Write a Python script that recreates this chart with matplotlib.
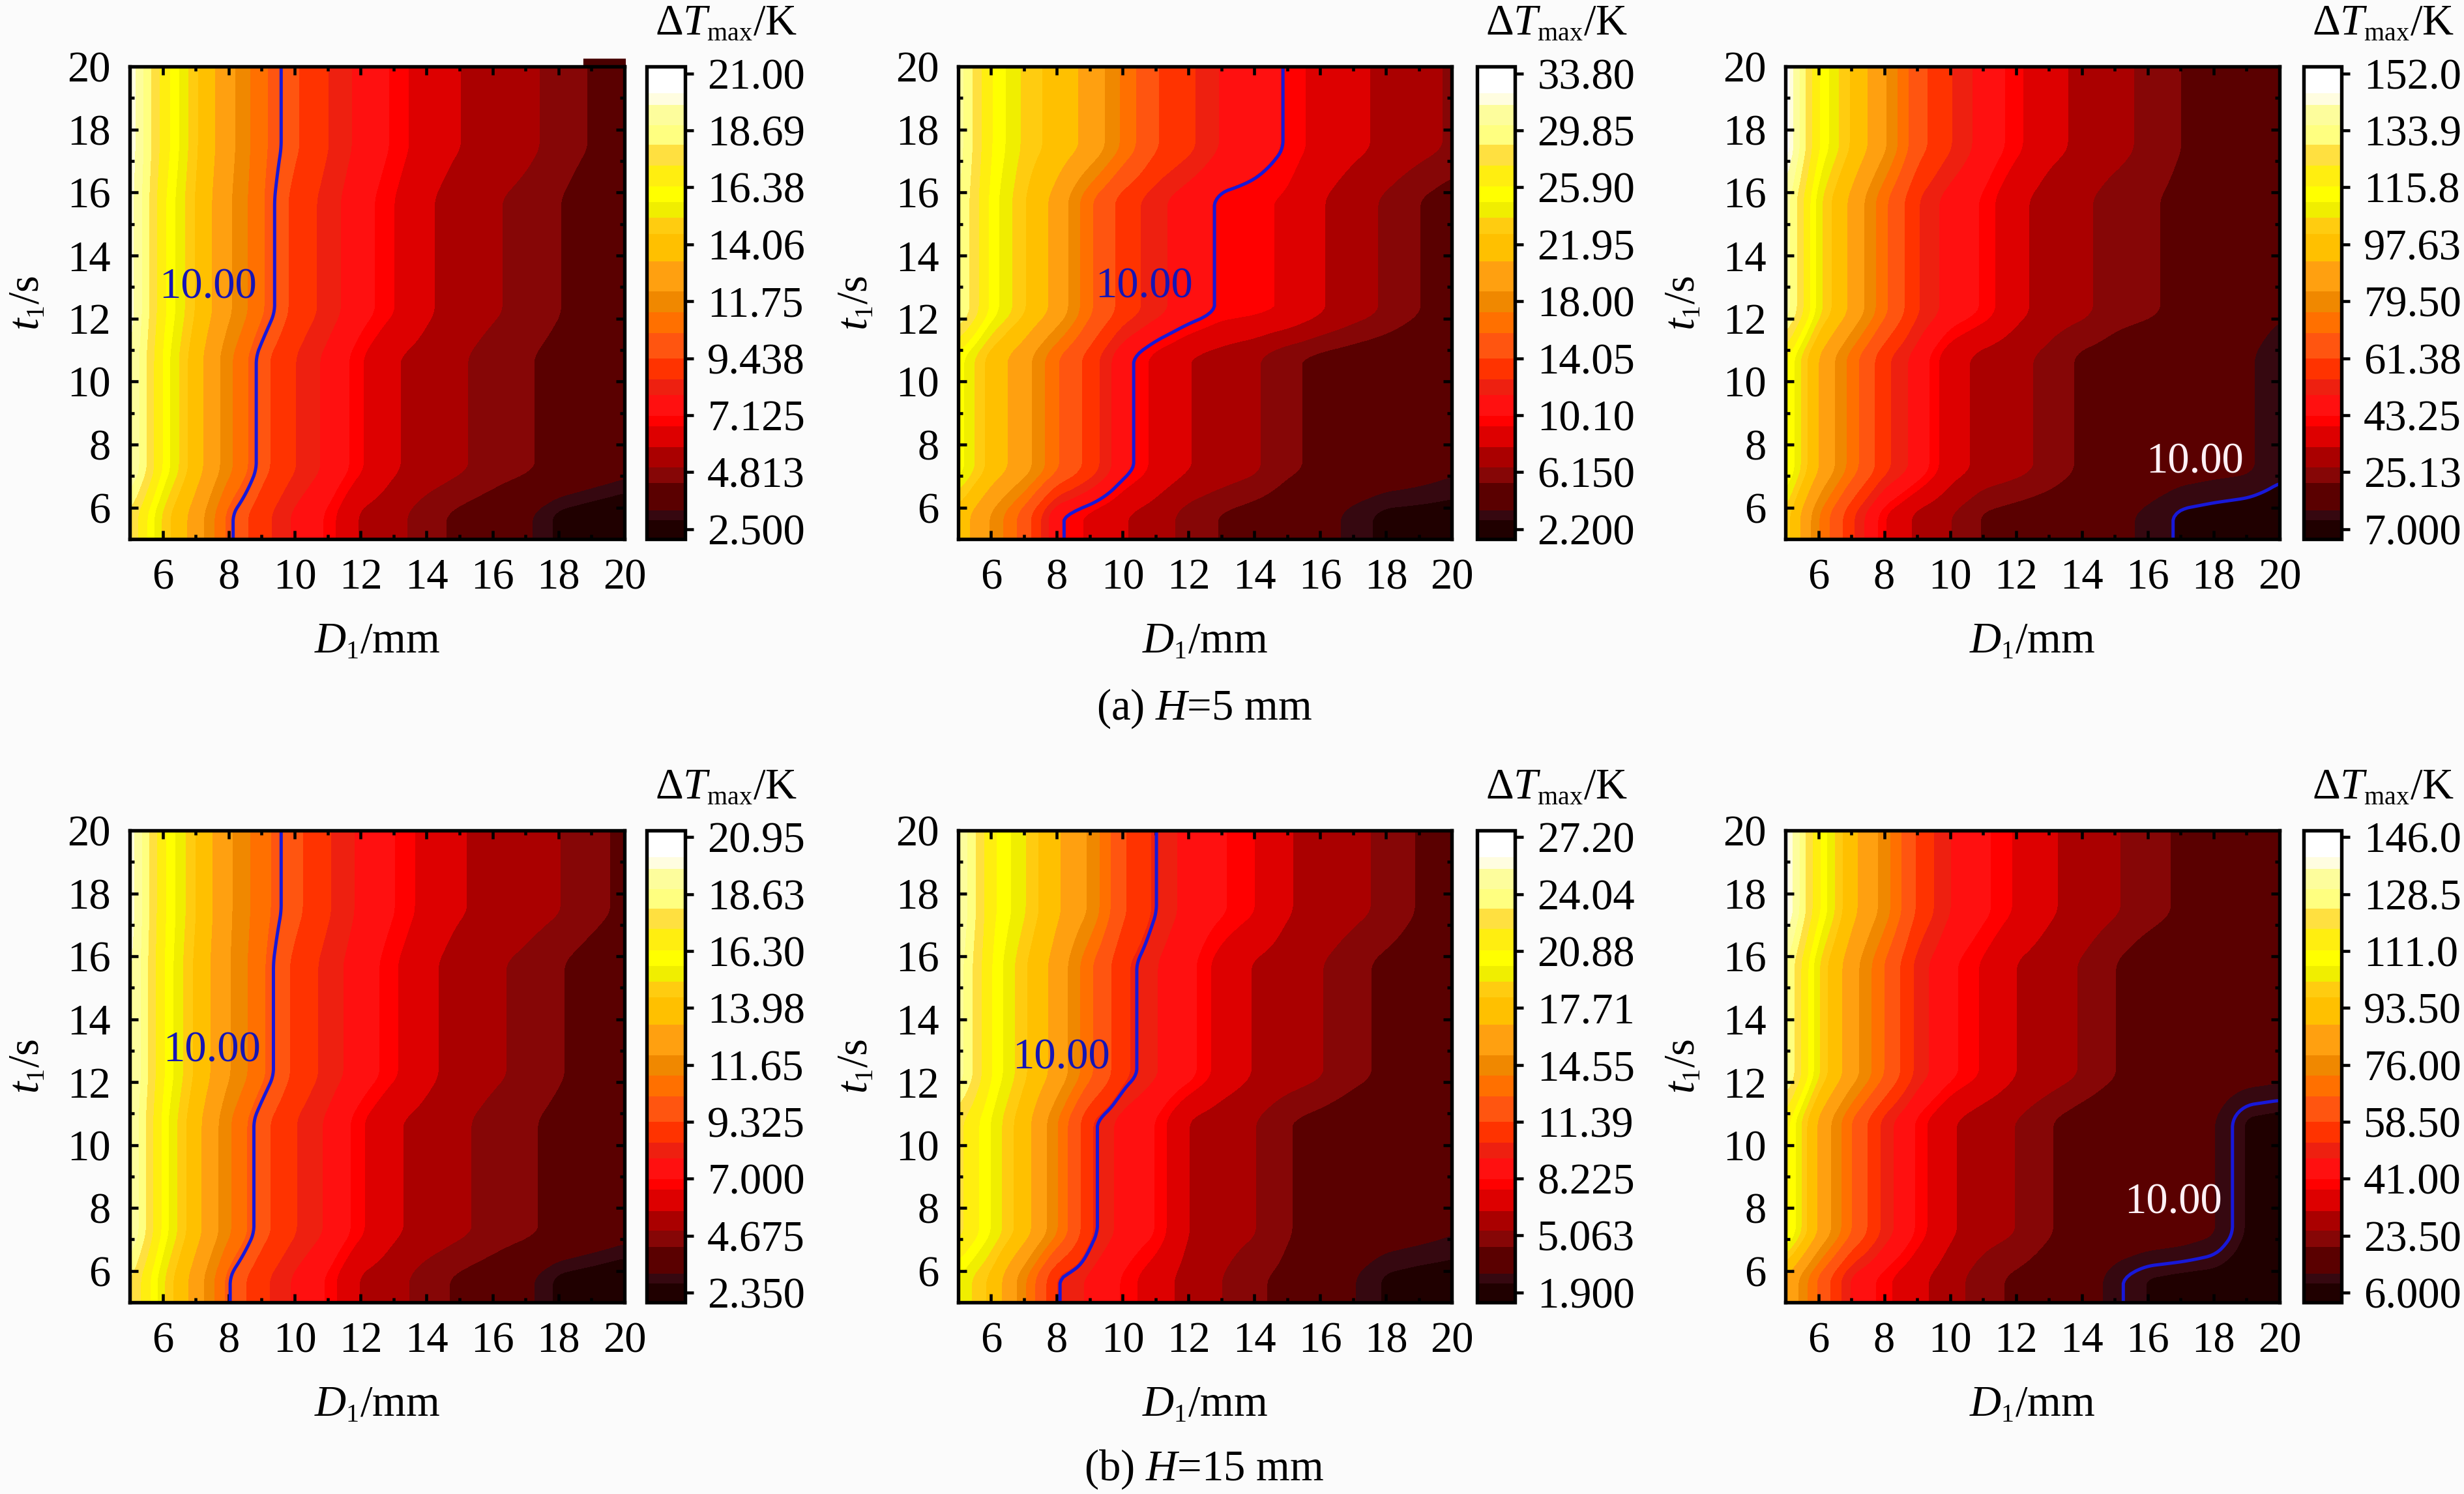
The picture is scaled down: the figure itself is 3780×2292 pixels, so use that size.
"""Maximum temperature difference maps over D1 and t1, two rows of three panels."""
import matplotlib._mathtext as mathtext_core
import matplotlib.pyplot as plt
from matplotlib.patches import Rectangle
import numpy as np

W, H = 3780, 2292

d1 = list(range(5, 21))
t1 = [5, 5.8, 7.2, 10.8, 12.2, 15.8, 17.4, 20]

dT_a1 = [
    [18.0, 15.0, 12.8, 10.15, 8.9, 7.8, 7.0, 5.7, 5.3, 4.6, 4.2, 3.85, 3.4, 2.75, 2.5, 2.3],
    [19.9, 16.3, 13.9, 11.5, 9.7, 8.6, 7.75, 6.75, 5.9, 5.5, 5.1, 4.75, 4.45, 4.1, 3.8, 3.5],
    [20.2, 16.6, 14.4, 12.3, 10.55, 9.15, 8.3, 7.4, 6.7, 5.95, 5.4, 5.1, 4.8, 4.4, 3.9, 3.5],
    [20.3, 16.9, 14.6, 12.5, 10.65, 9.55, 8.6, 7.7, 7.0, 6.3, 5.82, 5.5, 5.2, 4.75, 4.3, 3.9],
]
dT_a2 = [
    [22.0, 18.5, 15.0, 10.25, 9.1, 8.0, 7.2, 6.0, 5.3, 4.8, 4.4, 4.0, 3.2, 2.6, 2.5, 2.4],
    [25.5, 22.0, 19.5, 15.9, 13.4, 10.5, 9.0, 7.9, 7.3, 6.7, 5.6, 5.1, 4.7, 4.4, 4.1, 3.7],
    [30.5, 25.5, 22.8, 20.0, 16.0, 13.4, 11.9, 10.75, 9.8, 9.55, 9.2, 8.0, 7.1, 6.3, 5.4, 4.7],
    [31.0, 25.9, 23.5, 22.0, 20.1, 16.9, 14.1, 12.9, 11.35, 10.7, 9.9, 8.9, 8.2, 7.55, 6.95, 6.3],
]
dT_a3 = [
    [105, 76, 56, 40, 31.5, 27, 21, 19, 17.5, 16, 14.5, 12, 9.4, 8.6, 8, 7.5],
    [118, 92, 73, 56.5, 47, 36, 31, 28.5, 25, 20.5, 18.5, 16.5, 15, 14.2, 13.6, 11],
    [140, 108, 90, 71, 55, 47, 42.5, 35, 30, 28, 24, 22.5, 20, 17.5, 15, 13.5],
    [150, 116, 100, 84, 64, 55, 47, 41, 35, 31.5, 29, 25, 21.6, 18.5, 15.5, 14],
]
dT_b1 = [
    [18.2, 15.2, 12.7, 10.0, 8.7, 7.7, 6.9, 5.6, 5.2, 4.5, 4.1, 3.75, 3.3, 2.6, 2.4, 2.2],
    [19.8, 16.1, 13.7, 11.3, 9.6, 8.5, 7.7, 6.65, 5.8, 5.4, 5.0, 4.65, 4.35, 4.0, 3.7, 3.4],
    [20.0, 16.4, 14.2, 12.1, 10.5, 9.1, 8.2, 7.4, 6.65, 5.9, 5.3, 5.0, 4.7, 4.3, 3.85, 3.45],
    [20.2, 16.5, 14.4, 12.2, 10.65, 9.55, 8.55, 7.65, 7.0, 6.3, 5.75, 5.45, 5.2, 4.9, 4.5, 4.0],
]
dT_b2 = [
    [20.0, 18.0, 14.2, 10.0, 9.2, 8.1, 7.0, 6.0, 5.35, 4.6, 4.2, 3.7, 3.0, 2.3, 2.1, 2.0],
    [22.5, 20.0, 17.5, 14.0, 10.3, 9.0, 8.2, 6.4, 5.8, 5.4, 4.5, 4.1, 3.7, 3.45, 3.25, 3.0],
    [25.0, 20.9, 18.5, 16.1, 13.0, 10.45, 9.4, 8.5, 7.2, 6.35, 5.9, 5.4, 4.75, 4.2, 3.8, 3.4],
    [25.5, 21.2, 19.3, 17.0, 14.9, 11.5, 10.0, 9.0, 8.3, 7.65, 6.5, 6.1, 5.6, 5.1, 4.35, 3.7],
]
dT_b3 = [
    [88, 65, 46, 39, 33, 27.5, 22, 19, 16.5, 14, 10.45, 8.7, 8.3, 8, 7.3, 6.7],
    [115, 87, 66, 50, 40, 32, 27.5, 25, 20.5, 17, 14.5, 13.8, 13.2, 12, 8.5, 8],
    [132, 102, 83, 66, 50, 42, 37, 31, 28, 24.5, 20.2, 16, 14.5, 13.5, 13, 12.5],
    [143, 112, 91, 76, 57, 47, 42, 37, 32, 28.5, 25.5, 22.5, 19, 15.5, 14.5, 13.5],
]

bar_labels_a1 = ["21.00", "18.69", "16.38", "14.06", "11.75", "9.438", "7.125", "4.813", "2.500"]
bar_labels_a2 = ["33.80", "29.85", "25.90", "21.95", "18.00", "14.05", "10.10", "6.150", "2.200"]
bar_labels_a3 = ["152.0", "133.9", "115.8", "97.63", "79.50", "61.38", "43.25", "25.13", "7.000"]
bar_labels_b1 = ["20.95", "18.63", "16.30", "13.98", "11.65", "9.325", "7.000", "4.675", "2.350"]
bar_labels_b2 = ["27.20", "24.04", "20.88", "17.71", "14.55", "11.39", "8.225", "5.063", "1.900"]
bar_labels_b3 = ["146.0", "128.5", "111.0", "93.50", "76.00", "58.50", "41.00", "23.50", "6.000"]

band_colors = [
    "#200000", "#360810", "#5a0000", "#860606", "#aa0000", "#dd0000", "#ff0000", "#ff1010",
    "#ee2010", "#ff3300", "#ff5510", "#ff7000", "#f08800", "#ffa010", "#ffc000", "#ffcc10",
    "#f0ee00", "#ffff00", "#ffee10", "#ffe040", "#ffff80", "#fdfd9c", "#fffde0", "#ffffff",
]
band_edges = np.array([
    0, .0405, .0608, .118, .152, .194, .239, .261, .305, .338, .382, .436,
    .48, .524, .588, .646, .68, .713, .746, .791, .834, .876, .919, .943, 1,
])

# x0, x1 of plot and bar in pixels
columns = [(199, 958, 992, 1051), (1470, 2227, 2266, 2324), (2739, 3497, 3534, 3592)]
rows = [(102, 827), (1274, 1998)]

BLUE = "#1818d8"
d_fine = np.linspace(5, 20, 151)
t_fine = np.linspace(5, 20, 151)


def box(values, k=5):
    """Moving average with edge padding, rounds the contour corners like the spline in the original."""
    padded = np.pad(values, k // 2, mode="edge")
    return np.convolve(padded, np.ones(k) / k, mode="valid")


def surface(table):
    """Resample a profile table to the drawing grid."""
    z = np.repeat(np.array(table, dtype=float), 2, axis=0)
    z = np.array([np.interp(d_fine, d1, r) for r in z])
    z = np.array([np.interp(t_fine, t1, c) for c in z.T]).T
    z = np.apply_along_axis(box, 0, z)
    z = np.apply_along_axis(box, 1, z)
    return z


def px_axes(fig, x0, x1, y0, y1):
    return fig.add_axes([x0 / W, 1 - y1 / H, (x1 - x0) / W, (y1 - y0) / H])


def draw_panel(fig, col, row, table, labels, label_xy, label_color):
    x0, x1, bx0, bx1 = columns[col]
    y0, y1 = rows[row]
    ax = px_axes(fig, x0, x1, y0, y1)
    cax = px_axes(fig, bx0, bx1, y0, y1)

    ticks = [float(s) for s in labels]
    vmax, vmin = ticks[0], ticks[-1]
    span = (vmax - vmin) / 0.9645
    levels = vmin - 0.021 * span + band_edges * span

    z = surface(table)
    cf = ax.contourf(d_fine, t_fine, z, levels=levels, colors=band_colors)
    ax.contour(d_fine, t_fine, z, levels=[10.0], colors=BLUE, linewidths=1.2)
    ax.text(label_xy[0], label_xy[1], "10.00", color=label_color, ha="center", va="center")

    ax.set_xlim(5, 20)
    ax.set_ylim(5, 20)
    ax.set_xticks(range(6, 21, 2))
    ax.set_yticks(range(6, 21, 2))
    ax.set_xticks(range(5, 21), minor=True)
    ax.set_yticks(range(5, 21), minor=True)
    ax.tick_params(which="major", direction="in", length=3.2, width=1.1, top=True, right=True, pad=7)
    ax.tick_params(which="minor", direction="in", length=1.6, width=1.1, top=True, right=True)
    ax.set_xlabel("$D_1$/mm", labelpad=9)
    ax.set_ylabel("$t_1$/s", labelpad=7)
    for spine in ax.spines.values():
        spine.set_linewidth(1.3)
        spine.set_zorder(5)

    cbar = fig.colorbar(cf, cax=cax, ticks=ticks, spacing="proportional")
    cbar.ax.set_yticklabels(labels)
    cbar.ax.tick_params(length=3.2, width=1.1, pad=5)
    cbar.outline.set_linewidth(1.3)

    center = (bx0 + 122) / W
    fig.text(center, 1 - (y0 - 49) / H, r"$\Delta T_{\mathrm{max}}$/K", ha="center", va="baseline")
    return ax


def main():
    plt.rcParams["font.family"] = "Liberation Serif"
    plt.rcParams["font.size"] = 16
    plt.rcParams["mathtext.fontset"] = "custom"
    plt.rcParams["mathtext.rm"] = "Liberation Serif"
    plt.rcParams["mathtext.it"] = "Liberation Serif:italic"
    plt.rcParams["mathtext.default"] = "it"
    mathtext_core.SHRINK_FACTOR = 0.6

    fig = plt.figure(figsize=(W / 300, H / 300), dpi=300, facecolor="#fbfbfb")

    ax = draw_panel(fig, 0, 0, dT_a1, bar_labels_a1, (7.38, 12.98), "#1515b5")
    ax.add_patch(Rectangle((18.8, 20), 1.2, 0.2, color="#4a0000", clip_on=False, zorder=4))
    draw_panel(fig, 1, 0, dT_a2, bar_labels_a2, (10.65, 13.0), "#1515b5")
    draw_panel(fig, 2, 0, dT_a3, bar_labels_a3, (17.42, 7.44), "#fff0f5")
    draw_panel(fig, 0, 1, dT_b1, bar_labels_b1, (7.49, 13.0), "#1515b5")
    draw_panel(fig, 1, 1, dT_b2, bar_labels_b2, (8.13, 12.77), "#1515b5")
    draw_panel(fig, 2, 1, dT_b3, bar_labels_b3, (16.78, 8.17), "#fff0f5")

    fig.text(1847 / W, 1 - 1104 / H, r"(a) $H$=5 mm", ha="center", va="baseline")
    fig.text(1847 / W, 1 - 2271 / H, r"(b) $H$=15 mm", ha="center", va="baseline")

    fig.savefig("out.png", dpi=300, facecolor=fig.get_facecolor())


if __name__ == "__main__":
    main()
